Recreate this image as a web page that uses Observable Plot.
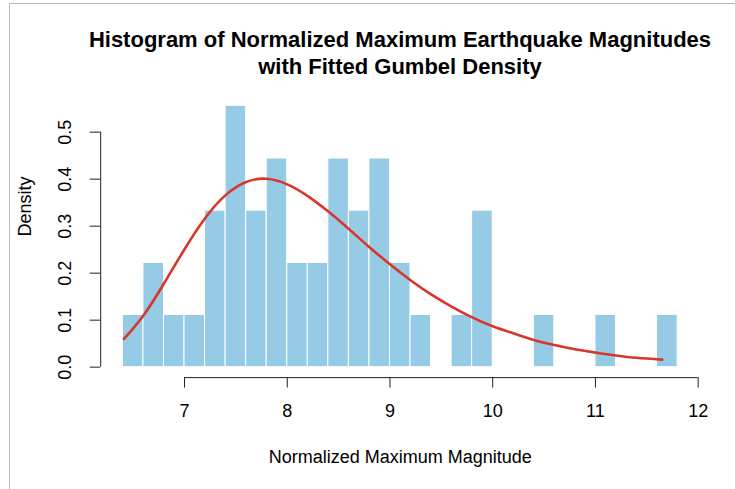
<!DOCTYPE html>
<html><head><meta charset="utf-8">
<script src="https://cdn.jsdelivr.net/npm/d3@7"></script>
<script src="https://cdn.jsdelivr.net/npm/@observablehq/plot@0.6"></script>
<style>
body{margin:0;background:#fff;font-family:"Liberation Sans",Arial,sans-serif;}
#wrap{position:relative;width:735px;height:489px;overflow:hidden}
#frame{position:absolute;left:9px;top:3px;right:-5px;bottom:-5px;border-top:1px solid #b8b8b8;border-left:1px solid #b8b8b8;}
#chart{position:absolute;left:0;top:0}
#title{position:absolute;left:0;width:800px;top:26px;text-align:center;font-weight:bold;font-size:22px;line-height:27px;color:#000}
</style></head>
<body><div id="wrap"><div id="frame"></div><div id="chart"></div><div id="title">Histogram of Normalized Maximum Earthquake Magnitudes<br>with Fitted Gumbel Density</div></div>
<script>
// Histogram bins (lower edge) and densities
const binLower = [6.4, 6.6, 6.8, 7.0, 7.2, 7.4, 7.6, 7.8, 8.0, 8.2, 8.4, 8.6, 8.8, 9.0, 9.2, 9.6, 9.8, 10.4, 11.0, 11.6];
const binDensity = [0.111, 0.222, 0.111, 0.111, 0.333, 0.556, 0.333, 0.444, 0.222, 0.222, 0.444, 0.333, 0.444, 0.222, 0.111, 0.111, 0.333, 0.111, 0.111, 0.111];
const binWidth = 0.2;

// Fitted Gumbel density curve
const curveX = [6.41, 6.6, 6.8, 7.0, 7.2, 7.4, 7.6, 7.8, 8.0, 8.2, 8.4, 8.6, 8.8, 9.0, 9.2, 9.4, 9.6, 9.8, 10.0, 10.2, 10.4, 10.6, 10.8, 11.0, 11.2, 11.4, 11.65];
const curveY = [0.060, 0.110, 0.178, 0.251, 0.317, 0.366, 0.394, 0.401, 0.389, 0.364, 0.331, 0.294, 0.255, 0.219, 0.185, 0.155, 0.129, 0.106, 0.087, 0.072, 0.058, 0.047, 0.038, 0.031, 0.025, 0.020, 0.016];

const xTicks = [7, 8, 9, 10, 11, 12];
const yTicks = [0, 0.1, 0.2, 0.3, 0.4, 0.5];
const xLim = [6.184, 12.016];
const yLim = [-0.0222, 0.5778];

const bars = binLower.map((lo, i) => ({x1: lo, x2: lo + binWidth, y: binDensity[i]}));
const curve = curveX.map((x, i) => ({x, y: curveY[i]}));

const font = "'Liberation Sans', Arial, sans-serif";
const chart = Plot.plot({
  width: 735, height: 489,
  marginLeft: 100.2, marginRight: 35.7, marginTop: 95.1, marginBottom: 111.9,
  x: {domain: xLim},
  y: {domain: yLim},
  style: {fontFamily: font, fontSize: "18px", background: "transparent", color: "#000"},
  marks: [
    Plot.rectY(bars, {x1: "x1", x2: "x2", y1: 0, y2: "y", fill: "#96cbe6", stroke: "white", strokeWidth: 1}),
    Plot.line(curve, {x: "x", y: "y", stroke: "#d9362b", strokeWidth: 2.6, curve: "natural"}),
    Plot.ruleY([yLim[0]], {x1: xTicks[0], x2: xTicks[xTicks.length - 1], stroke: "#222"}),
    Plot.axisX({ticks: xTicks, anchor: "bottom", tickSize: 10.5, tickFormat: () => "", label: null, stroke: "#222"}),
    Plot.text(xTicks, {x: d => d, y: yLim[0], dy: 33.6, text: d => String(d), fontSize: 18, lineAnchor: "middle", fill: "#000"}),
    Plot.ruleX([xLim[0]], {y1: yTicks[0], y2: yTicks[yTicks.length - 1], stroke: "#222"}),
    Plot.axisY({ticks: yTicks, anchor: "left", tickSize: 10.5, tickFormat: () => "", label: null, stroke: "#222"}),
    Plot.text(yTicks, {x: xLim[0], y: d => d, text: d => d.toFixed(1), rotate: -90, dx: -35, fontSize: 18, fill: "#000"}),
    Plot.text(["Density"], {frameAnchor: "left", rotate: -90, dx: -75, fontSize: 18, lineAnchor: "middle", fill: "#000"}),
    Plot.text(["Normalized Maximum Magnitude"], {frameAnchor: "bottom", dy: 79.6, lineAnchor: "middle", fontSize: 18, fill: "#000"})
  ]
});
document.getElementById("chart").appendChild(chart);
</script>
</body></html>
